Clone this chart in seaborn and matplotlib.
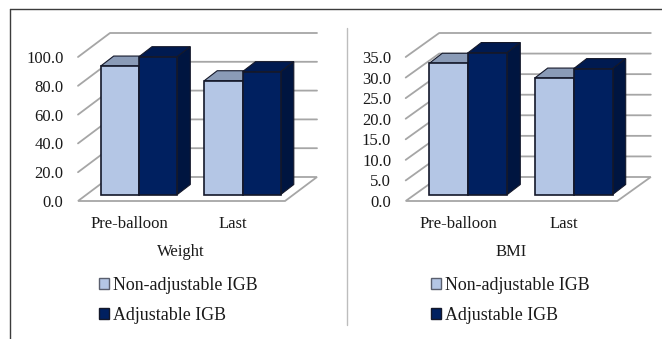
import matplotlib
matplotlib.use("Agg")
import matplotlib.pyplot as plt
from matplotlib.lines import Line2D
from matplotlib.patches import Polygon
import pandas as pd
import seaborn as sns

# Measurements per visit and balloon type
visits = ["Pre-balloon", "Last"]
balloon_types = ["Non-adjustable IGB", "Adjustable IGB"]
weight_non_adjustable = [89.2, 79.0]
weight_adjustable = [95.7, 85.3]
bmi_non_adjustable = [31.9, 28.3]
bmi_adjustable = [34.5, 30.6]
weight_ticks = [0, 20, 40, 60, 80, 100]
bmi_ticks = [0, 5, 10, 15, 20, 25, 30, 35]

FRONT_COLORS = ["#B4C6E5", "#002060"]
TOP_COLORS = ["#8A9BB7", "#001A50"]
SIDE_COLORS = ["#8A9BB7", "#001540"]
GRID = "#A6A6A6"
EDGE = "#14182A"
TEXT = "#1A1A1A"
W, H = 662, 339

sns.set_theme(style="white")
plt.rcParams["font.family"] = ["Liberation Serif", "DejaVu Serif"]
fig = plt.figure(figsize=(W / 100, H / 100), dpi=100)


def panel(non_adj, adj, ticks, xlabel, left, right, center0, center1, xlabel_x, legend_x, wall_px):
    """Draw one pseudo-3D clustered bar panel; geometry arguments are in pixels."""
    top_px, floor_px = 57.0, 201.0
    ax = fig.add_axes([left / W, 1 - floor_px / H, (right - left) / W, (floor_px - top_px) / H])
    df = pd.DataFrame({
        "visit": visits * 2,
        "type": [balloon_types[0]] * 2 + [balloon_types[1]] * 2,
        "value": list(non_adj) + list(adj),
    })
    ymax = ticks[-1]
    sx = center1 - center0
    sy = (floor_px - top_px) / ymax
    lift = 6.5 / sy  # bars stand a little behind the front edge of the floor
    sns.barplot(
        data=df, x="visit", y="value", hue="type", hue_order=balloon_types,
        palette=FRONT_COLORS, saturation=1, width=0.74, gap=0, dodge=True,
        edgecolor=EDGE, linewidth=1.2, ax=ax,
    )
    ax.set_xlim((left - center0) / sx, (right - center0) / sx)
    ax.set_ylim(0, ymax)

    # Floor and back walls
    wall_dx, wall_dy = wall_px / sx, 24 / sy
    x0, x1 = ax.get_xlim()
    ax.add_patch(Polygon(
        [(x0, 0), (x1, 0), (x1 + wall_dx, wall_dy), (x0 + wall_dx, wall_dy)],
        closed=True, facecolor="white", edgecolor=GRID, linewidth=1.3,
        clip_on=False, zorder=1,
    ))
    for t in ticks[1:]:
        ax.plot([x0, x0 + wall_dx, x1 + wall_dx], [t, t + wall_dy, t + wall_dy],
                color=GRID, linewidth=1.3, clip_on=False, zorder=1)

    # Extrude each bar: top and side faces follow the drawn front face
    depth_x, depth_y = 13 / sx, 10 / sy
    bars = list(ax.containers)
    for k, container in enumerate(bars):
        for rect in container:
            rect.set_y(lift)
            rect.set_clip_on(False)
            rect.set_zorder(3 + k)
            xa = rect.get_x()
            xb = xa + rect.get_width()
            yb = rect.get_y()
            yt = yb + rect.get_height()
            ax.add_patch(Polygon(
                [(xa, yt), (xb, yt), (xb + depth_x, yt + depth_y), (xa + depth_x, yt + depth_y)],
                closed=True, facecolor=TOP_COLORS[k], edgecolor=EDGE, linewidth=0.8,
                clip_on=False, zorder=2 + k,
            ))
            ax.add_patch(Polygon(
                [(xb, yb), (xb + depth_x, yb + depth_y), (xb + depth_x, yt + depth_y), (xb, yt)],
                closed=True, facecolor=SIDE_COLORS[k], edgecolor=EDGE, linewidth=0.8,
                clip_on=False, zorder=2 + k,
            ))

    sns.despine(ax=ax, left=True, bottom=True, right=True, top=True)
    label_shift = 10 / sx
    ax.set_xticks([-label_shift, 1 - label_shift], visits)
    ax.set_yticks(ticks, [f"{t:.1f}" for t in ticks])
    ax.tick_params(axis="x", length=0, pad=11, labelsize=12, labelcolor=TEXT)
    ax.tick_params(axis="y", length=0, pad=10.5, labelsize=12, labelcolor=TEXT)
    ax.set_xlabel("")
    ax.set_ylabel("")
    ax.patch.set_alpha(0)
    fig.text(xlabel_x / W, 1 - 251.5 / H, xlabel, ha="center", va="center",
             fontsize=12, color=TEXT)

    sns.move_legend(
        ax, "upper left", bbox_to_anchor=(legend_x / W, 1 - 277 / H),
        bbox_transform=fig.transFigure, frameon=False, title=None, fontsize=12.9,
        handlelength=0.58, handleheight=0.58, handletextpad=0.22,
        labelspacing=0.72, borderpad=0, borderaxespad=0, labelcolor=TEXT,
    )
    for handle, edge in zip(ax.get_legend().legend_handles, ["#5A5F6E", EDGE]):
        handle.set_edgecolor(edge)
        handle.set_linewidth(1.0)


panel(weight_non_adjustable, weight_adjustable, weight_ticks, "Weight",
      78, 285, 139, 242.5, 181, 99, 32)
panel(bmi_non_adjustable, bmi_adjustable, bmi_ticks, "BMI",
      405.7, 617.3, 468.3, 573.7, 511.3, 431, 33.5)

# Outer frame and divider between the panels
frame = "#3C3C3C"
fig.add_artist(Line2D([10 / W, 1], [1 - 9 / H, 1 - 9 / H], color=frame, linewidth=1.0))
fig.add_artist(Line2D([10 / W, 10 / W], [1 - 9 / H, 0], color=frame, linewidth=1.0))
fig.add_artist(Line2D([347 / W, 347 / W], [1 - 28 / H, 1 - 325 / H], color="#BDBDBD", linewidth=1.0))

fig.savefig("out.png", dpi=100, facecolor="white")
